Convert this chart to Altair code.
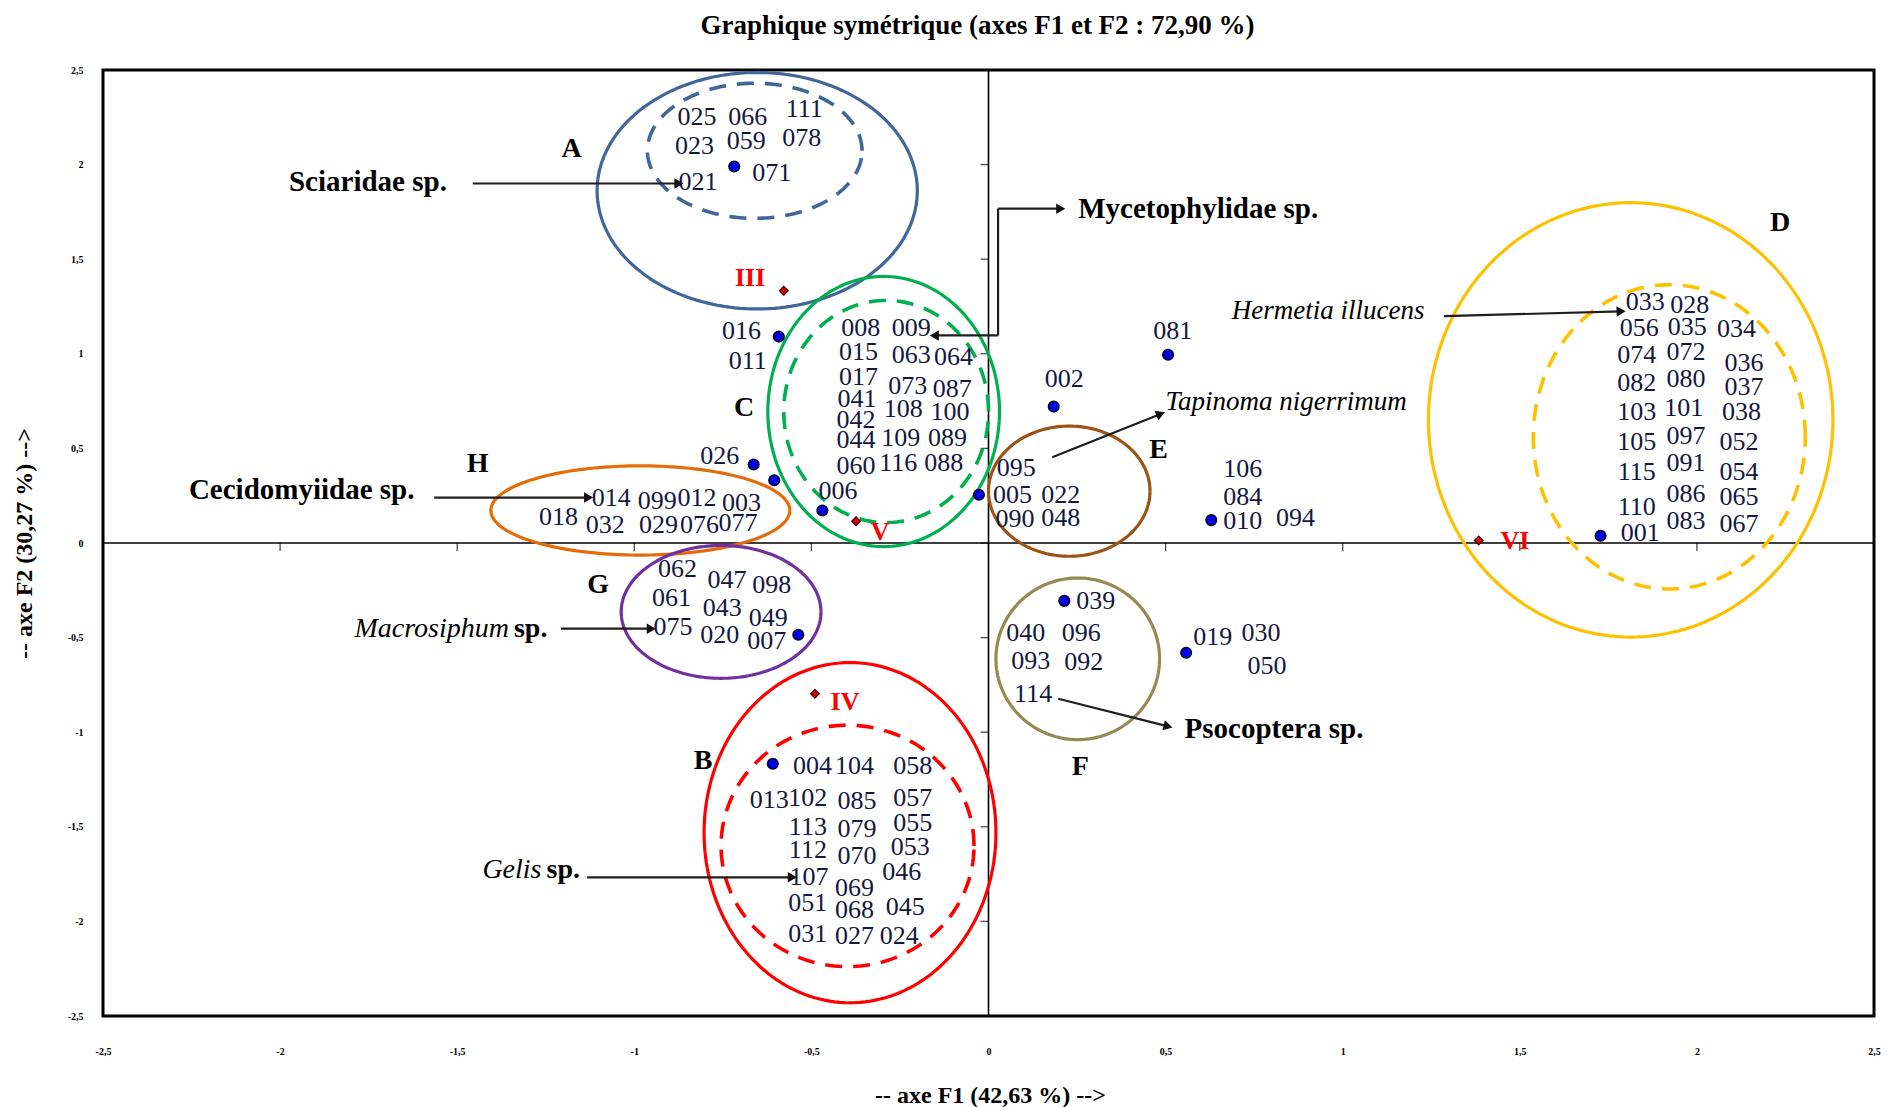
import math

import altair as alt
import numpy as np
import pandas as pd

FONT = "Liberation Serif"
W, H = 1771, 946           # plot area in pixels
LO, HI = -2.5, 2.5         # both axes
TICKS = [-2.5, -2, -1.5, -1, -0.5, 0, 0.5, 1, 1.5, 2, 2.5]

# ---- specimen labels (F1, F2) by cluster ----
labels_A = [("025", -0.823, 2.251), ("066", -0.680, 2.251), ("111", -0.520, 2.296),
            ("023", -0.830, 2.098), ("059", -0.684, 2.124), ("078", -0.527, 2.143),
            ("071", -0.612, 1.958), ("021", -0.820, 1.907)]
labels_C = [("008", -0.361, 1.135), ("009", -0.218, 1.135),
            ("015", -0.367, 1.008), ("063", -0.218, 0.995), ("064", -0.099, 0.982),
            ("017", -0.367, 0.880), ("073", -0.228, 0.829), ("087", -0.102, 0.816),
            ("041", -0.371, 0.759), ("108", -0.241, 0.708), ("100", -0.109, 0.695),
            ("042", -0.374, 0.651), ("044", -0.374, 0.542), ("109", -0.248, 0.555),
            ("089", -0.116, 0.555), ("060", -0.374, 0.408), ("116", -0.255, 0.421),
            ("088", -0.126, 0.421), ("016", -0.697, 1.122), ("011", -0.680, 0.963),
            ("026", -0.759, 0.459), ("006", -0.425, 0.274)]
labels_H = [("014", -1.065, 0.236), ("099", -0.935, 0.223), ("012", -0.823, 0.236),
            ("003", -0.697, 0.210), ("018", -1.214, 0.140), ("032", -1.082, 0.096),
            ("029", -0.932, 0.096), ("076", -0.816, 0.096), ("077", -0.707, 0.108)]
labels_G = [("062", -0.878, -0.140), ("047", -0.738, -0.198), ("098", -0.612, -0.223),
            ("061", -0.895, -0.293), ("043", -0.752, -0.344), ("049", -0.622, -0.395),
            ("075", -0.891, -0.446), ("020", -0.759, -0.485), ("007", -0.626, -0.517)]
labels_B = [("004", -0.497, -1.180), ("104", -0.378, -1.180), ("058", -0.214, -1.180),
            ("013", -0.619, -1.358), ("102", -0.510, -1.346), ("085", -0.371, -1.365),
            ("057", -0.214, -1.346), ("113", -0.510, -1.499), ("079", -0.371, -1.511),
            ("055", -0.214, -1.480), ("112", -0.510, -1.620), ("070", -0.371, -1.652),
            ("053", -0.221, -1.607), ("107", -0.507, -1.767), ("069", -0.378, -1.824),
            ("046", -0.245, -1.741), ("051", -0.510, -1.901), ("068", -0.378, -1.939),
            ("045", -0.235, -1.926), ("031", -0.510, -2.066), ("027", -0.378, -2.079),
            ("024", -0.252, -2.079)]
labels_E = [("095", 0.078, 0.395), ("005", 0.068, 0.255), ("022", 0.204, 0.255),
            ("090", 0.075, 0.128), ("048", 0.204, 0.134), ("002", 0.214, 0.867),
            ("081", 0.520, 1.122), ("106", 0.718, 0.389), ("084", 0.718, 0.242),
            ("010", 0.718, 0.115), ("094", 0.867, 0.134)]
labels_F = [("039", 0.303, -0.306), ("040", 0.105, -0.478), ("096", 0.262, -0.478),
            ("093", 0.119, -0.625), ("092", 0.269, -0.631), ("114", 0.126, -0.797),
            ("019", 0.633, -0.497), ("030", 0.769, -0.478), ("050", 0.786, -0.651)]
labels_D = [("033", 1.854, 1.276), ("028", 1.980, 1.256),
            ("056", 1.837, 1.135), ("035", 1.973, 1.142), ("034", 2.112, 1.129),
            ("074", 1.830, 0.995), ("072", 1.969, 1.008), ("036", 2.133, 0.950),
            ("082", 1.830, 0.848), ("080", 1.969, 0.867), ("037", 2.133, 0.823),
            ("103", 1.830, 0.695), ("101", 1.963, 0.714), ("038", 2.126, 0.695),
            ("105", 1.830, 0.536), ("097", 1.969, 0.568), ("052", 2.119, 0.536),
            ("115", 1.830, 0.376), ("091", 1.969, 0.421), ("054", 2.119, 0.376),
            ("110", 1.830, 0.191), ("086", 1.969, 0.261), ("065", 2.119, 0.242),
            ("001", 1.840, 0.051), ("083", 1.969, 0.115), ("067", 2.119, 0.102)]

# plotted sample points (blue) and supplementary habitat points (red)
dots_x = [-0.718, -0.592, -0.663, -0.605, -0.469, -0.027, -0.537, -0.609,
          0.184, 0.507, 0.629, 0.214, 0.558, 1.728]
dots_y = [1.990, 1.091, 0.415, 0.332, 0.172, 0.255, -0.485, -1.167,
          0.721, 0.995, 0.121, -0.306, -0.580, 0.038]
sites = ["III", "IV", "V", "VI"]
sites_x = [-0.578, -0.490, -0.374, 1.384]
sites_y = [1.333, -0.797, 0.115, 0.013]
sites_lx = [-0.673, -0.405, -0.306, 1.486]
sites_ly = [1.403, -0.842, 0.057, 0.013]

# cluster outlines
ell_group = ["A", "A", "C", "C", "H", "G", "B", "B", "E", "F", "D", "D"]
ell_dashed = [False, True, False, True, False, False, False, True, False, False, False, True]
ell_cx = [-0.653, -0.660, -0.296, -0.289, -0.983, -0.755, -0.391, -0.398, 0.228, 0.252, 1.813, 1.922]
ell_cy = [1.862, 2.073, 0.695, 0.695, 0.172, -0.364, -1.531, -1.601, 0.274, -0.612, 0.651, 0.561]
ell_rx = [0.452, 0.303, 0.327, 0.289, 0.422, 0.282, 0.412, 0.357, 0.228, 0.231, 0.571, 0.384]
ell_ry = [0.625, 0.357, 0.714, 0.587, 0.236, 0.351, 0.899, 0.638, 0.344, 0.427, 1.148, 0.804]
group_colors = {"A": "#41679a", "C": "#00b050", "H": "#e46c0a", "G": "#7030a0",
                "B": "#ff0000", "E": "#9c5416", "F": "#948a54", "D": "#ffc000"}

group_letters = ["A", "B", "C", "D", "E", "F", "G", "H"]
letters_x = [-1.177, -0.806, -0.690, 2.235, 0.480, 0.259, -1.102, -1.442]
letters_y = [2.085, -1.154, 0.714, 1.690, 0.491, -1.186, -0.223, 0.415]

# taxa annotations
taxa_bold = ["Sciaridae sp.", "Mycetophylidae sp.", "Cecidomyiidae sp.", "Psocoptera sp."]
taxa_bold_x = [-1.752, 0.592, -1.939, 0.806]
taxa_bold_y = [1.907, 1.767, 0.281, -0.982]
taxa_italic = ["Hermetia illucens", "Tapinoma nigerrimum"]
taxa_italic_x = [0.959, 0.840]
taxa_italic_y = [1.224, 0.746]
genus_sp = ["Macrosiphum", "Gelis"]
genus_sp_x = [-1.354, -1.262]
genus_sp_y = [-0.453, -1.728]

# arrows: (x0, y0, x1, y1, head at end)
arrows = [(-1.456, 1.900, -0.874, 1.900, True),
          (0.027, 1.097, -0.153, 1.097, True),
          (0.027, 1.097, 0.027, 1.767, False),
          (0.027, 1.767, 0.204, 1.767, True),
          (-1.565, 0.240, -1.129, 0.240, True),
          (-1.207, -0.453, -0.952, -0.453, True),
          (-1.133, -1.767, -0.554, -1.767, True),
          (0.180, 0.453, 0.486, 0.682, True),
          (0.197, -0.823, 0.507, -0.969, True),
          (1.286, 1.199, 1.786, 1.224, True)]

# ---------------------------------------------------------------- tables
xs = alt.Scale(domain=[LO, HI], nice=False, zero=False)
ys = alt.Scale(domain=[LO, HI], nice=False, zero=False)

rows = []
for grp in (labels_A, labels_C, labels_H, labels_G, labels_B, labels_E, labels_F, labels_D):
    rows += [{"t": t, "x": x, "y": y} for t, x, y in grp]
lab_df = pd.DataFrame(rows)

theta = np.linspace(0, 2 * np.pi, 181)
ell_rows = []
for i in range(len(ell_group)):
    for k, th in enumerate(theta):
        ell_rows.append({"eid": i, "k": k, "dashed": ell_dashed[i],
                         "x": ell_cx[i] + ell_rx[i] * np.cos(th),
                         "y": ell_cy[i] + ell_ry[i] * np.sin(th),
                         "c": group_colors[ell_group[i]]})
ell_df = pd.DataFrame(ell_rows)

sx, sy = W / (HI - LO), H / (HI - LO)
seg_df = pd.DataFrame([{"x": a, "y": b, "x2": c, "y2": d} for a, b, c, d, _ in arrows])
head_df = pd.DataFrame([{"x": c, "y": d,
                         "ang": math.degrees(math.atan2(-(d - b) * sy, (c - a) * sx)) % 360}
                        for a, b, c, d, h in arrows if h])

zero_df = pd.DataFrame({"v": [0.0]})
tick_df = pd.DataFrame({"v": [t for t in TICKS if LO < t < HI]})


def X(f="x"):
    return alt.X(f"{f}:Q", scale=xs)


def Y(f="y"):
    return alt.Y(f"{f}:Q", scale=ys)


# decimal comma, no trailing zeros, plain hyphen for negatives
label_expr = ("replace(replace(format(datum.value, '~g'), '.', ','), '\u2212', '-')")
x_axis = alt.Axis(values=TICKS, labelExpr=label_expr, labelPadding=30,
                  title="-- axe F1 (42,63 %) -->", titleX=887, titleY=79,
                  titleBaseline="middle", titleAlign="center", titleAngle=0)
y_axis = alt.Axis(values=TICKS, labelExpr=label_expr, labelPadding=20,
                  title="-- axe F2 (30,27 %) -->", titleX=-79, titleY=473,
                  titleAngle=270, titleBaseline="middle", titleAlign="center")

# ---------------------------------------------------------------- layers
vline = alt.Chart(zero_df).mark_rule(color="black", strokeWidth=1.6).encode(
    x=alt.X("v:Q", scale=xs, axis=x_axis))
hline = alt.Chart(zero_df).mark_rule(color="black", strokeWidth=1.6).encode(
    y=alt.Y("v:Q", scale=ys, axis=y_axis))
xticks = alt.Chart(tick_df).mark_tick(orient="vertical", size=8, thickness=1.3,
                                      color="black", yOffset=4).encode(
    x=X("v"), y=alt.Y(datum=0, scale=ys))
yticks = alt.Chart(tick_df).mark_tick(orient="horizontal", size=8, thickness=1.3,
                                      color="black", xOffset=-4).encode(
    y=Y("v"), x=alt.X(datum=0, scale=xs))

ell_solid = alt.Chart(ell_df[~ell_df.dashed]).mark_line(strokeWidth=3.2).encode(
    x=X(), y=Y(), detail="eid:N", order="k:Q", color=alt.Color("c:N", scale=None))
ell_dash = alt.Chart(ell_df[ell_df.dashed]).mark_line(strokeWidth=3.6, strokeDash=[17, 11]).encode(
    x=X(), y=Y(), detail="eid:N", order="k:Q", color=alt.Color("c:N", scale=None))

arrow_lines = alt.Chart(seg_df).mark_rule(color="#1e1e1e", strokeWidth=2.2).encode(
    x=X(), y=Y(), x2="x2:Q", y2="y2:Q")
arrow_heads = alt.Chart(head_df).mark_point(shape="triangle-right", filled=True, size=110,
                                            color="#111111", opacity=1).encode(
    x=X(), y=Y(), angle=alt.Angle("ang:Q", scale=None))

dots = alt.Chart(pd.DataFrame({"x": dots_x, "y": dots_y})).mark_point(
    shape="circle", filled=True, size=110, fill="#0000ee", stroke="#00001a",
    strokeWidth=1.6, opacity=1).encode(x=X(), y=Y())
site_pts = alt.Chart(pd.DataFrame({"x": sites_x, "y": sites_y})).mark_point(
    shape="diamond", filled=True, size=75, fill="#e00000", stroke="#3a0000",
    strokeWidth=1.2, opacity=1).encode(x=X(), y=Y())
site_txt = alt.Chart(pd.DataFrame({"t": sites, "x": sites_lx, "y": sites_ly})).mark_text(
    font=FONT, fontSize=26, fontWeight="bold", color="#ff0000", align="center",
    baseline="middle").encode(x=X(), y=Y(), text="t:N")

num_txt = alt.Chart(lab_df).mark_text(
    font=FONT, fontSize=26, color="#14183f", align="center", baseline="middle").encode(
    x=X(), y=Y(), text="t:N")

letter_txt = alt.Chart(pd.DataFrame({"t": group_letters, "x": letters_x, "y": letters_y})).mark_text(
    font=FONT, fontSize=28, fontWeight="bold", color="black", align="center", baseline="middle").encode(
    x=X(), y=Y(), text="t:N")

taxa_b = alt.Chart(pd.DataFrame({"t": taxa_bold, "x": taxa_bold_x, "y": taxa_bold_y})).mark_text(
    font=FONT, fontSize=29, fontWeight="bold", color="black", align="center", baseline="middle").encode(
    x=X(), y=Y(), text="t:N")
taxa_i = alt.Chart(pd.DataFrame({"t": taxa_italic, "x": taxa_italic_x, "y": taxa_italic_y})).mark_text(
    font=FONT, fontSize=27, fontStyle="italic", color="black", align="center", baseline="middle").encode(
    x=X(), y=Y(), text="t:N")
gs_df = pd.DataFrame({"t": genus_sp, "x": genus_sp_x, "y": genus_sp_y})
genus_txt = alt.Chart(gs_df).mark_text(
    font=FONT, fontSize=28, fontStyle="italic", color="black", align="right", baseline="middle").encode(
    x=X(), y=Y(), text="t:N")
sp_txt = alt.Chart(gs_df).mark_text(
    font=FONT, fontSize=28, fontWeight="bold", color="black", align="left", baseline="middle", dx=5).encode(
    x=X(), y=Y(), text=alt.value("sp."))

chart = alt.layer(
    vline, hline, xticks, yticks, ell_solid, ell_dash, arrow_lines, arrow_heads,
    dots, site_pts, site_txt, num_txt, letter_txt, taxa_b, taxa_i, genus_txt, sp_txt
).properties(
    width=W, height=H,
    title=alt.TitleParams("Graphique symétrique (axes F1 et F2 : 72,90 %)", font=FONT,
                          fontSize=27, fontWeight="bold", color="black", anchor="middle",
                          baseline="middle", offset=12, dx=-11),
    padding={"left": 103, "top": 70, "right": 18, "bottom": 91},
    autosize=alt.AutoSizeParams(type="none"),
).configure_view(
    stroke="black", strokeWidth=3
).configure_axis(
    grid=False, ticks=False, domain=False, labelFont=FONT, labelFontSize=10,
    labelFontWeight="bold", labelColor="black", labelFlush=False, labelOverlap=False,
    titleFont=FONT, titleFontSize=24, titleFontWeight="bold", titleColor="black"
)

chart.save("out.html", embed_options={"renderer": "svg", "actions": False})
